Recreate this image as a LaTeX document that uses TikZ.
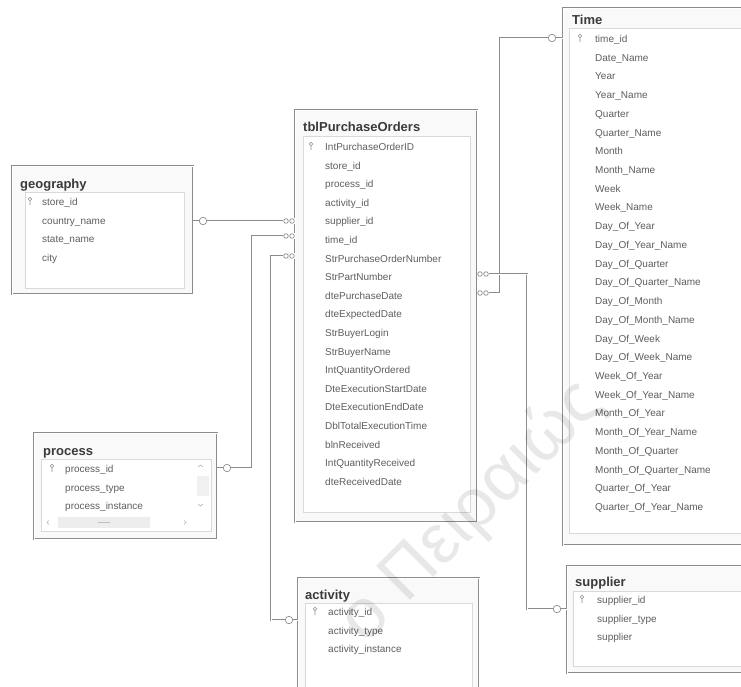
\documentclass[tikz,border=0pt]{standalone}
\usepackage{fontspec}
\setmainfont{Liberation Sans}
\definecolor{linegray}{HTML}{8C8C8C}
\definecolor{titlegray}{HTML}{3A3A3A}
\definecolor{fieldgray}{HTML}{5E5E5E}
\tikzset{
  tabbox/.style={draw=linegray, double=white, double distance=0.8pt, line width=0.4pt, fill=gray!5, inner sep=0pt, anchor=north west},
  rowbox/.style={draw=gray!30, fill=white, inner sep=0pt, anchor=north west},
  tabtitle/.style={font=\fontsize{13}{13}\selectfont\bfseries, text=titlegray, anchor=base west, inner sep=0pt},
  field/.style={font=\fontsize{10}{10}\selectfont, text=fieldgray, anchor=base west, inner sep=0pt},
  link/.style={draw=linegray, double=white, double distance=0.9pt, line width=0.45pt},
  onemark/.style={circle, draw=linegray, fill=white, line width=0.7pt, minimum size=7.5pt, inner sep=0pt},
  manymark/.style={minimum width=12pt, minimum height=6pt, inner sep=0pt, fill=white,
    path picture={\draw[linegray, line width=0.7pt] ([xshift=-3pt]path picture bounding box.center) circle (2.3pt)
      ([xshift=3pt]path picture bounding box.center) circle (2.3pt);}}
}
\newcommand{\keyicon}[2]{\draw[linegray, line width=0.6pt] (#1,#2-6) circle (1.8) (#1,#2-4.2) -- (#1,#2);}
\begin{document}
\begin{tikzpicture}[x=1pt,y=-1pt]
\useasboundingbox[fill=white] (0,0) rectangle (741,686);
\clip (0,0) rectangle (741,686);

% geography
\node[tabbox, minimum width=181pt, minimum height=128pt] (geo) at (12,166) {};
\node[rowbox, minimum width=159pt, minimum height=96pt] (geo-rows) at (25,192) {};
\node[tabtitle] (geo-t) at (20,188.5) {geography};
\foreach \f [count=\i from 0] in {store\_id, country\_name, state\_name, city}
  \node[field] (geo-\i) at (42,205.5+18.7*\i) {\f};
\keyicon{30}{205}

% tblPurchaseOrders
\node[tabbox, minimum width=182pt, minimum height=412pt] (tbl) at (295,110) {};
\node[rowbox, minimum width=167pt, minimum height=376pt] (tbl-rows) at (303,136) {};
\node[tabtitle] (tbl-t) at (303,131.5) {tblPurchaseOrders};
\foreach \f [count=\i from 0] in {IntPurchaseOrderID, store\_id, process\_id, activity\_id, supplier\_id, time\_id,
    StrPurchaseOrderNumber, StrPartNumber, dtePurchaseDate, dteExpectedDate, StrBuyerLogin, StrBuyerName,
    IntQuantityOrdered, DteExecutionStartDate, DteExecutionEndDate, DblTotalExecutionTime, blnReceived,
    IntQuantityReceived, dteReceivedDate}
  \node[field] (tbl-\i) at (325,150.5+18.6*\i) {\f};
\keyicon{311}{150}

% Time
\node[tabbox, minimum width=190pt, minimum height=537pt] (time) at (563,8) {};
\node[rowbox, minimum width=180pt, minimum height=505pt] (time-rows) at (569,28) {};
\node[tabtitle] (time-t) at (572,24.5) {Time};
\foreach \f [count=\i from 0] in {time\_id, Date\_Name, Year, Year\_Name, Quarter, Quarter\_Name, Month, Month\_Name,
    Week, Week\_Name, Day\_Of\_Year, Day\_Of\_Year\_Name, Day\_Of\_Quarter, Day\_Of\_Quarter\_Name, Day\_Of\_Month,
    Day\_Of\_Month\_Name, Day\_Of\_Week, Day\_Of\_Week\_Name, Week\_Of\_Year, Week\_Of\_Year\_Name, Month\_Of\_Year,
    Month\_Of\_Year\_Name, Month\_Of\_Quarter, Month\_Of\_Quarter\_Name, Quarter\_Of\_Year, Quarter\_Of\_Year\_Name}
  \node[field] (time-\i) at (595,42.5+18.72*\i) {\f};
\keyicon{580}{42}

% process
\node[tabbox, minimum width=183pt, minimum height=106pt] (proc) at (34,433) {};
\node[rowbox, minimum width=170pt, minimum height=72pt] (proc-rows) at (41,459) {};
\node[tabtitle] (proc-t) at (43,455.5) {process};
\foreach \f [count=\i from 0] in {process\_id, process\_type, process\_instance}
  \node[field] (proc-\i) at (65,472.5+18.6*\i) {\f};
\keyicon{52}{472}
% scroll bars
\fill[gray!12] (197,476) rectangle (209,496);
\draw[gray!60, line width=0.6pt] (198,467) -- (200.5,465) -- (203,467) (198,504) -- (200.5,506) -- (203,504);
\fill[gray!14] (58,517) rectangle (150,528);
\draw[gray!50] (98,522.5) -- (110,522.5);
\draw[gray!60, line width=0.6pt] (49,520.5) -- (47,522.5) -- (49,524.5) (184,520.5) -- (186,522.5) -- (184,524.5);

% activity
\node[tabbox, minimum width=181pt, minimum height=120pt] (act) at (298,578) {};
\node[rowbox, minimum width=167pt, minimum height=100pt] (act-rows) at (305,603) {};
\node[tabtitle] (act-t) at (305,599.5) {activity};
\foreach \f [count=\i from 0] in {activity\_id, activity\_type, activity\_instance}
  \node[field] (act-\i) at (328,615.5+18.6*\i) {\f};
\keyicon{315}{615}

% supplier
\node[tabbox, minimum width=180pt, minimum height=107pt] (supp) at (567,566) {};
\node[rowbox, minimum width=175pt, minimum height=75pt] (supp-rows) at (573,591) {};
\node[tabtitle] (supp-t) at (575,586.5) {supplier};
\foreach \f [count=\i from 0] in {supplier\_id, supplier\_type, supplier}
  \node[field] (supp-\i) at (597,603.5+18.6*\i) {\f};
\keyicon{582}{603}

% relationship ends
\node[onemark] (geo-one) at (203,221) {};
\node[onemark] (proc-one) at (227,468) {};
\node[onemark] (act-one) at (289,620) {};
\node[onemark] (time-one) at (552,38) {};
\node[onemark] (supp-one) at (557,609) {};
\node[manymark] (tbl-geo) at (289,221) {};
\node[manymark] (tbl-proc) at (289,236) {};
\node[manymark] (tbl-act) at (289,256) {};
\node[manymark] (tbl-supp) at (483,274) {};
\node[manymark] (tbl-time) at (483,293) {};
\coordinate (proc-bend) at (252,236);
\coordinate (act-bend) at (271,256);
\coordinate (time-bend) at (500,38);
\coordinate (supp-bend) at (527,609);

% relationships
\draw[link] (geo.east |- geo-one) -- (geo-one) -- (tbl-geo);
\draw[link] (proc.east |- proc-one) -- (proc-one) -| (proc-bend) -- (tbl-proc);
\draw[link] (act.west |- act-one) -- (act-one) -| (act-bend) -- (tbl-act);
\draw[link] (tbl-time) -| (time-bend) -- (time-one) -- (time.west |- time-one);
\draw[link] (tbl-supp) -| (supp-bend) -- (supp-one) -- (supp.west |- supp-one);

% watermark
\node[rotate=45, text=black, text opacity=0.09, font=\fontsize{70}{70}\selectfont] (mark) at (472,512) {ο Πειραιώς};
\end{tikzpicture}
\end{document}
